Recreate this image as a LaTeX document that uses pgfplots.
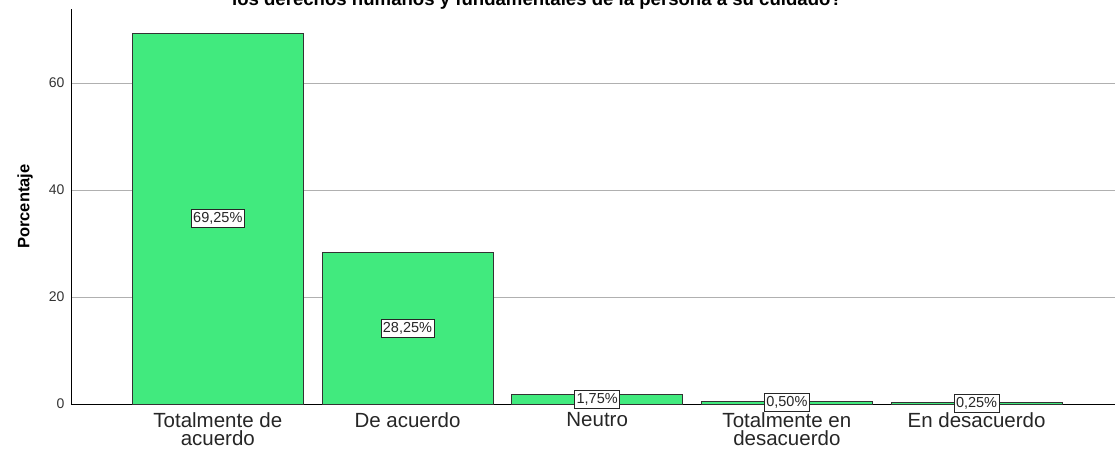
\documentclass[border=0pt]{standalone}
\usepackage{pgfplots}
\pgfplotsset{compat=1.18}
\usepackage{pgfplotstable}
\usepackage{fontspec}
\setmainfont{Liberation Sans}
\definecolor{barg}{RGB}{65,234,126}
\definecolor{gridg}{RGB}{176,176,176}
\pgfplotstableread{
x y
0 69.25
1 28.25
2 1.75
3 0.50
4 0.25
}\data
\begin{document}
\begin{tikzpicture}[x=1pt,y=1pt]
\begin{axis}[
  scale only axis,
  width=1044pt, height=395pt,
  at={(71pt,45pt)}, anchor=south west,
  xmin=-0.774, xmax=4.73,
  ymin=0, ymax=73.8,
  axis lines=left,
  axis line style={-, black, line width=0.9pt},
  ytick={0,20,40,60},
  ymajorgrids,
  grid style={gridg, line width=0.7pt},
  major tick length=0pt,
  /pgf/number format/assume math mode=true,
  yticklabel style={font=\fontsize{14}{16}\selectfont, text=black!80, xshift=-3pt},
  xtick={0,1,2,3,4},
  xticklabels={{Totalmente de\\acuerdo},{De acuerdo},{Neutro},{Totalmente en\\desacuerdo},{En desacuerdo}},
  xticklabel style={font=\fontsize{20.5}{18}\selectfont, align=center, text=black!85, yshift=-5pt},
  ylabel={\textbf{Porcentaje}},
  ylabel style={font=\fontsize{16.5}{18}\selectfont, at={(axis description cs:-0.044,0.5)}, anchor=center},
  clip=false,
]
\addplot[ybar, bar width=171pt, fill=barg, draw=black!80, line width=0.9pt] table[x=x,y=y]{\data};
\addplot[only marks, mark=none, point meta=explicit,
  nodes near coords={\pgfmathprintnumber[fixed,fixed zerofill,precision=2,use comma]{\pgfplotspointmeta}\%},
  every node near coord/.append style={anchor=center, draw=black!85, fill=white, inner xsep=2pt, inner ysep=3pt, line width=0.8pt, font=\fontsize{14.5}{16}\selectfont, text=black!85}
] table[x=x, y expr=\thisrow{y}/2, meta=y]{\data};
\end{axis}
\node[anchor=base, font=\bfseries\fontsize{18.6}{20}\selectfont] at (537pt,443pt) {los derechos humanos y fundamentales de la persona a su cuidado?};
\pgfresetboundingbox
\path[use as bounding box] (0,0) rectangle (1115pt,449pt);
\end{tikzpicture}
\end{document}
